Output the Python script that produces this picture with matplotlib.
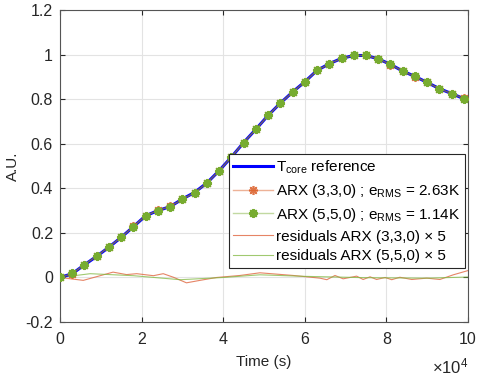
import numpy as np
import matplotlib
matplotlib.use("Agg")
import matplotlib.pyplot as plt
from matplotlib.ticker import FuncFormatter, MultipleLocator

plt.rcParams["font.family"] = ["Liberation Sans", "DejaVu Sans"]
plt.rcParams["mathtext.fontset"] = "custom"
plt.rcParams["mathtext.rm"] = "Liberation Sans"
plt.rcParams["mathtext.it"] = "Liberation Sans:italic"
plt.rcParams["mathtext.default"] = "rm"

# normalised core temperature, one sample every 3000 s
t = np.arange(0, 100000, 3000)
t_core = [0.0, 0.017, 0.057, 0.095, 0.136, 0.18, 0.228, 0.277, 0.30, 0.318,
          0.352, 0.382, 0.424, 0.479, 0.54, 0.605, 0.665, 0.727, 0.782, 0.832,
          0.878, 0.929, 0.959, 0.983, 0.996, 0.996, 0.981, 0.956, 0.926, 0.902,
          0.875, 0.847, 0.825, 0.802]
arx333 = [0.0, 0.016, 0.058, 0.096, 0.137, 0.181, 0.229, 0.278, 0.301, 0.319,
          0.351, 0.381, 0.423, 0.479, 0.541, 0.605, 0.665, 0.727, 0.782, 0.832,
          0.878, 0.929, 0.958, 0.983, 0.996, 0.996, 0.981, 0.955, 0.926, 0.901,
          0.875, 0.846, 0.825, 0.804]
arx550 = [0.0, 0.018, 0.058, 0.096, 0.137, 0.18, 0.228, 0.277, 0.30, 0.318,
          0.351, 0.381, 0.424, 0.479, 0.54, 0.605, 0.665, 0.727, 0.782, 0.832,
          0.878, 0.929, 0.959, 0.983, 0.996, 0.996, 0.981, 0.956, 0.926, 0.902,
          0.875, 0.847, 0.825, 0.802]

# residuals x 5
res333_t = [0, 5700, 13000, 16300, 18800, 22900, 25300, 27800, 31000, 34300,
            38400, 44100, 49000, 57200, 63700, 65400, 67400, 69400, 72700,
            74300, 76000, 77600, 79700, 81300, 83300, 86200, 89900, 93100,
            96400, 100000]
res333 = [0.0, -0.013, 0.024, 0.013, 0.017, 0.008, 0.017, 0.001, -0.024, -0.013,
          0.0, 0.009, 0.021, 0.009, -0.003, -0.01, 0.009, -0.006, 0.006,
          -0.009, 0.003, -0.009, 0.0, -0.01, 0.001, -0.009, -0.003, -0.009,
          0.012, 0.031]
res550_t = [0, 7400, 18000, 29500, 40000, 49000, 60000, 75000, 90000, 100000]
res550 = [0.0, 0.017, 0.008, -0.01, 0.0, 0.012, 0.005, -0.001, -0.003, 0.002]

fig = plt.figure(figsize=(4.8, 3.78), dpi=100)
ax = fig.add_axes([0.125, 0.148, 0.85, 0.8255])

star = (8, 2, 0)  # 8-spoke asterisk, like matlab '*'
ax.plot(t, t_core, color="#0000ff", lw=2.2, label=r"T$_{core}$ reference", zorder=3)
ax.plot(t, arx333, color=(0.85, 0.33, 0.1, 0.45), lw=1.0, marker=star, ms=6.5, mew=1.2,
        mfc="#d95319", mec=(0.85, 0.33, 0.1, 0.8),
        label=r"ARX (3,3,0) ; e$_{RMS}$ = 2.63K", zorder=4)
ax.plot(t, arx550, color=(0.47, 0.67, 0.19, 0.45), lw=1.0, marker=star, ms=6.5, mew=1.4,
        mfc="#77ac30", mec="#77ac30",
        label=r"ARX (5,5,0) ; e$_{RMS}$ = 1.14K", zorder=5)
ax.plot(res333_t, res333, color=(0.88, 0.4, 0.25, 0.8), lw=0.8,
        label="residuals ARX (3,3,0) × 5", zorder=2)
ax.plot(res550_t, res550, color=(0.5, 0.72, 0.25, 0.75), lw=0.8,
        label="residuals ARX (5,5,0) × 5", zorder=2)

ax.set_xlim(0, 100000)
ax.set_ylim(-0.2, 1.2)
ax.xaxis.set_major_locator(MultipleLocator(20000))
ax.yaxis.set_major_locator(MultipleLocator(0.2))
ax.xaxis.set_major_formatter(FuncFormatter(lambda x, _: f"{x/1e4:g}"))
ax.yaxis.set_major_formatter(FuncFormatter(lambda y, _: f"{round(y, 2):g}"))
ax.grid(True, color="#e3e3e3", lw=0.8)
ax.set_axisbelow(True)
ax.tick_params(direction="in", top=True, right=True, length=3.5, width=0.8,
               labelsize=11.5, colors="#262626")
ax.tick_params(axis="x", pad=7)
ax.tick_params(axis="y", pad=5)
for sp in ax.spines.values():
    sp.set_edgecolor("#555555")
    sp.set_linewidth(0.8)

ax.set_xlabel("Time (s)", fontsize=11, color="#262626")
ax.xaxis.set_label_coords(0.5, -0.105)
ax.set_ylabel("A.U.", fontsize=11, color="#262626")
ax.yaxis.set_label_coords(-0.098, 0.5)
ax.text(1.0, -0.165, r"$\times$10$^{4}$", transform=ax.transAxes, ha="right",
        va="baseline", fontsize=12, color="#262626")

leg = ax.legend(loc="upper left", bbox_to_anchor=(0.414, 0.538), borderaxespad=0,
                fontsize=11, fancybox=False, framealpha=1, edgecolor="#262626",
                handlelength=2.6, handletextpad=0.2, labelspacing=0.38,
                borderpad=0.3, numpoints=1)
leg.get_frame().set_linewidth(0.8)

fig.savefig("out.png", dpi=100)
